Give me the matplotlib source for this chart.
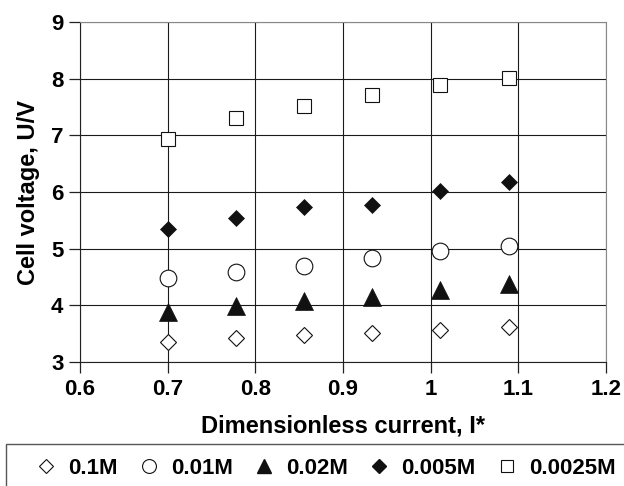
"""
Cell voltage vs dimensionless current for several electrolyte concentrations
"""
import numpy as np
import matplotlib.pyplot as plt
from matplotlib.patches import Rectangle

plt.rcParams['font.family'] = 'Liberation Sans'
plt.rcParams['font.weight'] = 'bold'

# dimensionless current, shared by all series
I_star = [0.700, 0.778, 0.856, 0.933, 1.011, 1.089]

# cell voltage (V) per concentration
U_01M = [3.36, 3.42, 3.48, 3.52, 3.57, 3.61]
U_001M = [4.48, 4.58, 4.70, 4.83, 4.95, 5.04]
U_002M = [3.88, 3.98, 4.08, 4.15, 4.27, 4.37]
U_0005M = [5.35, 5.55, 5.73, 5.77, 6.02, 6.17]
U_00025M = [6.94, 7.30, 7.51, 7.71, 7.89, 8.02]

labels = ['0.1M', '0.01M', '0.02M', '0.005M', '0.0025M']

fig = plt.figure(figsize=(6.24, 4.86), dpi=100)
ax = fig.add_axes([80/624, 1-362/486, 526/624, 340/486])

k = '#111111'
h1, = ax.plot(I_star, U_01M, ls='none', marker='D', ms=8, mfc='white', mec=k, mew=0.8)
h2, = ax.plot(I_star, U_001M, ls='none', marker='o', ms=12, mfc='white', mec=k, mew=0.8)
h3, = ax.plot(I_star, U_002M, ls='none', marker='^', ms=12.5, mfc=k, mec=k, mew=0.5)
h4, = ax.plot(I_star, U_0005M, ls='none', marker='D', ms=8.3, mfc=k, mec=k, mew=0.5)
h5, = ax.plot(I_star, U_00025M, ls='none', marker='s', ms=10.5, mfc='white', mec=k, mew=0.8)
for h in (h1, h2, h3, h4, h5):
    h.set_zorder(3)

ax.set_xlim(0.6, 1.2)
ax.set_ylim(3, 9)
ax.set_xticks(np.arange(0.6, 1.21, 0.1))
ax.set_xticklabels(['0.6', '0.7', '0.8', '0.9', '1', '1.1', '1.2'])
ax.set_yticks(range(3, 10))
ax.grid(True, color='#1a1a1a', lw=0.8)
ax.set_axisbelow(True)
for s in ('top', 'right'):
    ax.spines[s].set_color('#888888')
for s in ('left', 'bottom'):
    ax.spines[s].set_color('#222222')
ax.tick_params(direction='out', length=8, width=0.9, color='#222222',
               labelsize=16, pad=4)

ax.set_xlabel('Dimensionless current, I*', fontsize=17, fontweight='bold', labelpad=11)
ax.set_ylabel('Cell voltage, U/V', fontsize=17, fontweight='bold', labelpad=8)

# legend strip along the bottom
fig.patches.append(Rectangle((6/624, -0.1), 1.0, 0.1 + 42/486, transform=fig.transFigure,
                             fill=False, ec='#555555', lw=1.0))
small = [
    plt.Line2D([], [], ls='none', marker='D', ms=7, mfc='white', mec=k, mew=0.8),
    plt.Line2D([], [], ls='none', marker='o', ms=10, mfc='white', mec=k, mew=0.8),
    plt.Line2D([], [], ls='none', marker='^', ms=10, mfc=k, mec=k),
    plt.Line2D([], [], ls='none', marker='D', ms=7, mfc=k, mec=k),
    plt.Line2D([], [], ls='none', marker='s', ms=9, mfc='white', mec=k, mew=0.8),
]
fig.legend(small, labels, ncol=5, loc='center', bbox_to_anchor=(325/624, 1-468/486),
           frameon=False, handlelength=1.0, handletextpad=0.5,
           columnspacing=0.9, prop={'weight': 'bold', 'size': 16})

fig.savefig('out.png', dpi=100)
